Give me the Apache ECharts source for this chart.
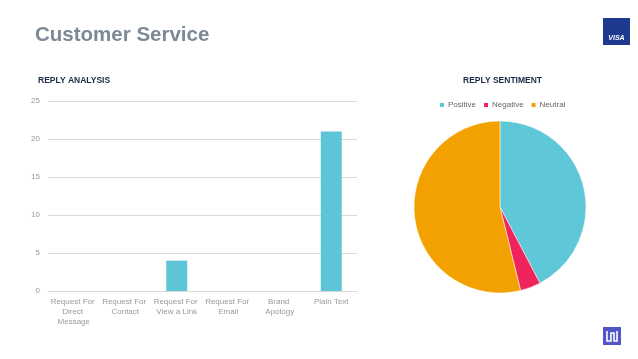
<!DOCTYPE html>
<html><head><meta charset="utf-8">
<script src="https://cdn.jsdelivr.net/npm/echarts@6/dist/echarts.min.js"></script>
<style>html,body{margin:0;padding:0;background:#fff}#c{width:638px;height:359px}</style>
</head><body><div id="c"></div>
<script>
const categories = ['Request For Direct Message','Request For Contact','Request For View a Link','Request For Email','Brand Apology','Plain Text'];
const replyCounts = [0, 0, 4, 0, 0, 21];
const sentimentNames = ['Positive','Negative','Neutral'];
const sentimentValues = [11, 1, 14];
const sentimentColors = ['#5ec8d8','#f0245c','#f3a100'];
const yTicks = [0, 5, 10, 15, 20, 25];

const chart = echarts.init(document.getElementById('c'));
chart.setOption({
  animation: false,
  title: [
    {text: 'Customer Service', left: 30, top: 20, textStyle: {fontFamily: 'Liberation Sans', fontWeight: 'bold', fontSize: 20.5, color: '#7d8996'}},
    {text: 'REPLY ANALYSIS', left: 33, top: 71, textStyle: {fontFamily: 'Liberation Sans', fontWeight: 'bold', fontSize: 8.5, color: '#1b2a47'}},
    {text: 'REPLY SENTIMENT', left: 458, top: 71, textStyle: {fontFamily: 'Liberation Sans', fontWeight: 'bold', fontSize: 8.5, color: '#1b2a47'}}
  ],
  legend: {
    data: sentimentNames, top: 96, left: 433, itemWidth: 6, itemHeight: 6, itemGap: 6, icon: 'rect',
    textStyle: {fontFamily: 'Liberation Sans', fontSize: 8, color: '#666', padding: [0,0,0,-2]}
  },
  grid: {left: 48, right: 281, top: 101, bottom: 68},
  xAxis: {
    type: 'category', data: categories,
    axisLine: {lineStyle: {color: '#d9d9d9'}}, axisTick: {show: false},
    axisLabel: {interval: 0, width: 50, overflow: 'break', fontFamily: 'Liberation Sans', fontSize: 8, color: '#999', lineHeight: 10, margin: 6}
  },
  yAxis: {
    type: 'value', min: yTicks[0], max: yTicks[yTicks.length-1], interval: 5,
    axisLine: {show: false}, axisTick: {show: false},
    splitLine: {lineStyle: {color: '#d9d9d9'}},
    axisLabel: {fontFamily: 'Liberation Sans', fontSize: 8, color: '#999', margin: 8}
  },
  series: [
    {type: 'bar', data: replyCounts, barWidth: 21, itemStyle: {color: '#5ec5d6'}},
    {type: 'pie', center: [500, 207], radius: 86, startAngle: 90, clockwise: true,
     label: {show: false}, labelLine: {show: false},
     itemStyle: {borderColor: '#fff', borderWidth: 0.5},
     data: sentimentNames.map((n, i) => ({name: n, value: sentimentValues[i], itemStyle: {color: sentimentColors[i]}}))}
  ],
  graphic: [
    {type: 'rect', shape: {x: 603, y: 18, width: 27, height: 27}, style: {fill: '#1e3a8f'}},
    {type: 'text', x: 616.5, y: 38, style: {text: 'VISA', fill: '#fff', fontSize: 7, fontWeight: 'bold', fontStyle: 'italic', fontFamily: 'Liberation Sans', align: 'center', verticalAlign: 'middle'}},
    {type: 'rect', shape: {x: 603, y: 327, width: 18, height: 18}, style: {fill: '#5055c7'}},
    {type: 'polyline', shape: {points: [[607,331],[607,341],[611,341],[611,333],[614,333],[614,341],[617,341],[617,331]]}, style: {stroke: '#fff', lineWidth: 1.6, fill: null}}
  ]
});
</script></body></html>
